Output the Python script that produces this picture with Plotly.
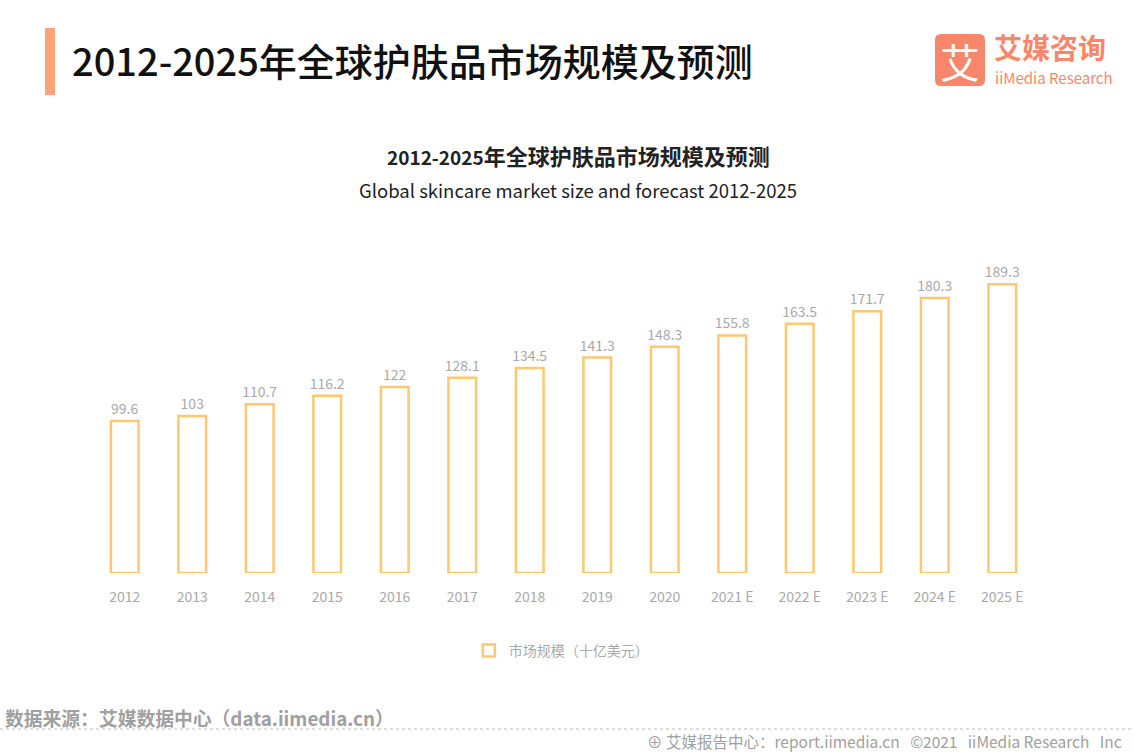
import plotly.graph_objects as go

years = ["2012", "2013", "2014", "2015", "2016", "2017", "2018", "2019", "2020",
         "2021 E", "2022 E", "2023 E", "2024 E", "2025 E"]
values = [99.6, 103, 110.7, 116.2, 122, 128.1, 134.5, 141.3, 148.3,
          155.8, 163.5, 171.7, 180.3, 189.3]
value_labels = ["99.6", "103", "110.7", "116.2", "122", "128.1", "134.5", "141.3", "148.3",
                "155.8", "163.5", "171.7", "180.3", "189.3"]
series_name = "市场规模（十亿美元）"

FONT = "Noto Sans CJK SC"
W, H = 1134, 756

fig = go.Figure()
fig.add_trace(go.Bar(
    x=years, y=values, name=series_name,
    marker=dict(color="rgba(255,255,255,1)", line=dict(color="#FFC870", width=2.5)),
    text=value_labels, textposition="outside", cliponaxis=False, constraintext="none",
    textfont=dict(family=FONT, size=14, color="#A9A9A9"),
    width=0.41,
))

fig.update_layout(
    width=W, height=H,
    margin=dict(l=0, r=0, t=0, b=0),
    paper_bgcolor="white", plot_bgcolor="white",
    font=dict(family=FONT),
    showlegend=True,
    legend=dict(orientation="h", x=0.495, xanchor="center", y=1 - 651 / H, yanchor="middle",
                font=dict(family=FONT, size=14, color="#A9A9A9"),
                itemwidth=30),
    xaxis=dict(domain=[91 / W, 1036 / W], showgrid=False, showline=False, zeroline=False,
               tickfont=dict(family=FONT, size=14, color="#A9A9A9"), ticks="",
               ticklabelstandoff=14),
    yaxis=dict(domain=[1 - 573 / H, 1 - 268 / H], range=[0, 200], visible=False),
)

shapes = [
    dict(type="rect", xref="paper", yref="paper", x0=45 / W, x1=55 / W,
         y0=1 - 95 / H, y1=1 - 28 / H, fillcolor="#FFA27A", line=dict(width=0)),
    dict(type="line", xref="paper", yref="paper", x0=0, x1=1,
         y0=1 - 729 / H, y1=1 - 729 / H, line=dict(color="#BBBBBB", width=1, dash="dot")),
    dict(type="path", xref="paper", yref="paper",
         path=("M {a},{b} L {c},{b} Q {d},{b} {d},{e} L {d},{f} Q {d},{g} {c},{g} "
               "L {a},{g} Q {h},{g} {h},{f} L {h},{e} Q {h},{b} {a},{b} Z").format(
             a=941 / W, c=979 / W, d=985 / W, h=935 / W,
             b=1 - 34 / H, e=1 - 40 / H, f=1 - 80 / H, g=1 - 86 / H),
         fillcolor="#F7866A", line=dict(width=0), layer="below"),
]
fig.update_layout(shapes=shapes)

ann = [
    dict(text="2012-2025年全球护肤品市场规模及预测", x=70 / W, y=1 - 60 / H,
         xanchor="left", yanchor="middle",
         font=dict(family=FONT, size=38, color="#111111", weight=500)),
    dict(text="<b><span style='font-size:19px'>2012-2025</span>年全球护肤品市场规模及预测</b>",
         x=578 / W, y=1 - 155 / H,
         xanchor="center", yanchor="middle", font=dict(family=FONT, size=22, color="#222222")),
    dict(text="Global skincare market size and forecast 2012-2025", x=578 / W, y=1 - 190 / H,
         xanchor="center", yanchor="middle", font=dict(family=FONT, size=18.5, color="#222222")),
    dict(text="艾", x=960 / W, y=1 - 61 / H, xanchor="center", yanchor="middle",
         font=dict(family=FONT, size=40, color="white")),
    dict(text="<b>艾媒咨询</b>", x=992 / W, y=1 - 47 / H, xanchor="left", yanchor="middle",
         font=dict(family=FONT, size=28, color="#F7866A")),
    dict(text="iiMedia Research", x=993 / W, y=1 - 78 / H, xanchor="left", yanchor="middle",
         font=dict(family=FONT, size=15, color="#F7866A")),
    dict(text="<b>数据来源：艾媒数据中心（data.iimedia.cn）</b>", x=3 / W, y=1 - 717 / H,
         xanchor="left", yanchor="middle", font=dict(family=FONT, size=18.8, color="#A0A0A0")),
    dict(text="⊕ 艾媒报告中心：report.iimedia.cn   ©2021   iiMedia Research   Inc", x=1124 / W,
         y=1 - 741 / H, xanchor="right", yanchor="middle",
         font=dict(family=FONT, size=15.5, color="#A0A0A0")),
]
for a in ann:
    a.update(xref="paper", yref="paper", showarrow=False)
fig.update_layout(annotations=ann)

fig.write_html("out.html")
